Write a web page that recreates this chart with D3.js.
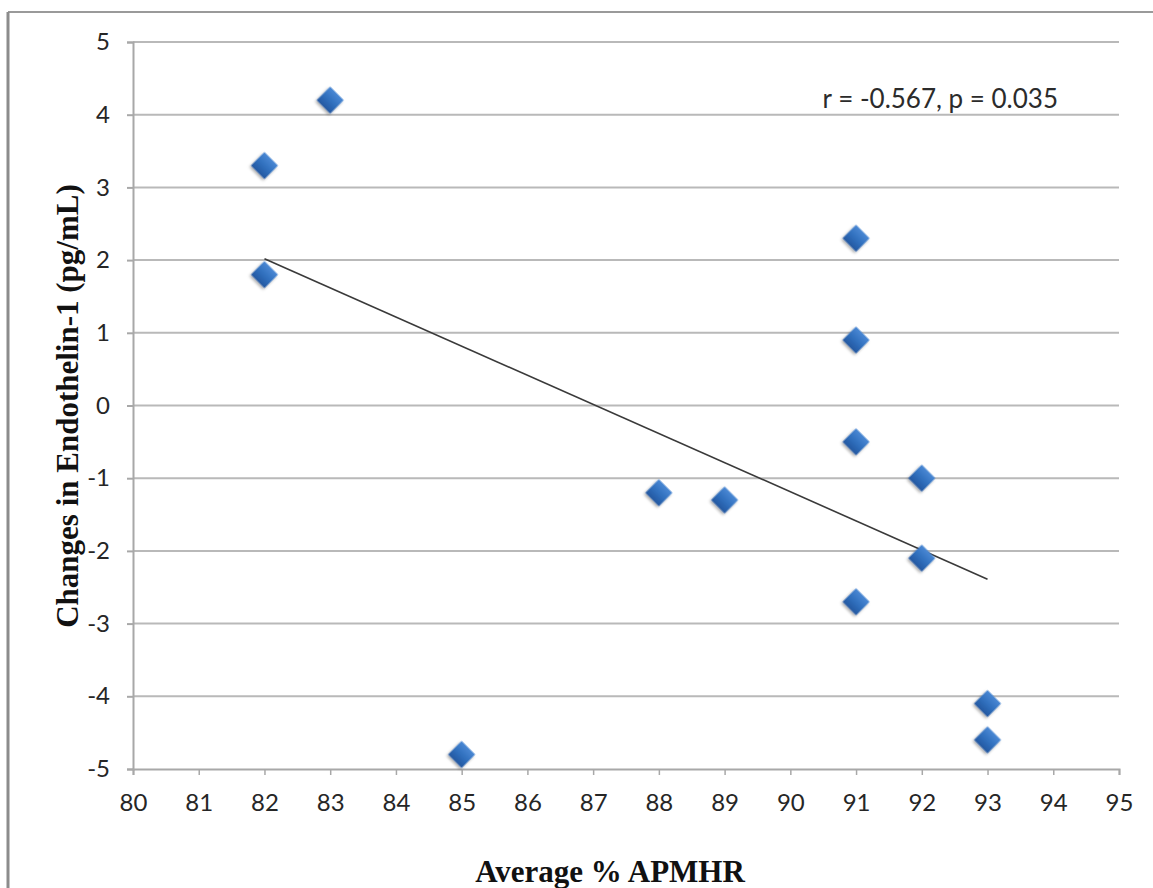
<!DOCTYPE html>
<html>
<head>
<meta charset="utf-8">
<script src="https://cdn.jsdelivr.net/npm/d3@7"></script>
<style>
  html, body { margin: 0; padding: 0; background: #fff; }
  svg { display: block; }
</style>
</head>
<body>
<svg id="chart" width="1153" height="888"></svg>
<script>
// ── Data ──
const apmhr = [82, 82, 83, 85, 88, 89, 91, 91, 91, 91, 92, 92, 93, 93];
const endothelinChange = [3.3, 1.8, 4.2, -4.8, -1.2, -1.3, 2.3, 0.9, -0.5, -2.7, -1.0, -2.1, -4.1, -4.6];
const xTicks = d3.range(80, 96, 1);
const yTicks = d3.range(-5, 6, 1);
const statsLabel = "r = -0.567, p = 0.035";
const xTitle = "Average % APMHR";
const yTitle = "Changes in Endothelin-1 (pg/mL)";

const points = apmhr.map((x, i) => ({ x, y: endothelinChange[i] }));

// least squares trend line
const mx = d3.mean(apmhr), my = d3.mean(endothelinChange);
const sxy = d3.sum(points, p => (p.x - mx) * (p.y - my));
const sxx = d3.sum(points, p => (p.x - mx) ** 2);
const slope = sxy / sxx;
const intercept = my - slope * mx;
const [xMin, xMax] = d3.extent(apmhr);
const trend = [
  { x: xMin, y: intercept + slope * xMin },
  { x: xMax, y: intercept + slope * xMax }
];

const svg = d3.select("#chart");
const margin = { left: 133, right: 1119, top: 42, bottom: 769 };

const x = d3.scaleLinear().domain([80, 95]).range([margin.left, margin.right]);
const y = d3.scaleLinear().domain([-5, 5]).range([margin.bottom, margin.top]);

// plain hyphen for negatives, like the original
const fmt = d => String(d);

// ── Defs: marker gradient + shadow ──
const defs = svg.append("defs");
const grad = defs.append("linearGradient")
  .attr("id", "diamondFill")
  .attr("x1", "0").attr("y1", "0").attr("x2", "0").attr("y2", "1");
grad.append("stop").attr("offset", "0%").attr("stop-color", "#4a88d4");
grad.append("stop").attr("offset", "55%").attr("stop-color", "#2f6ebc");
grad.append("stop").attr("offset", "100%").attr("stop-color", "#2458a0");

const shadow = defs.append("filter").attr("id", "shadow")
  .attr("x", "-50%").attr("y", "-50%").attr("width", "200%").attr("height", "200%");
shadow.append("feGaussianBlur").attr("in", "SourceAlpha").attr("stdDeviation", 1.5);
shadow.append("feOffset").attr("dx", 0).attr("dy", 2).attr("result", "off");
shadow.append("feComponentTransfer").append("feFuncA").attr("type", "linear").attr("slope", 0.35);
const merge = shadow.append("feMerge");
merge.append("feMergeNode");
merge.append("feMergeNode").attr("in", "SourceGraphic");

// ── Frame (picture border) ──
svg.append("line")
  .attr("x1", 8).attr("x2", 1153).attr("y1", 12).attr("y2", 12)
  .attr("stroke", "#9a9a9a").attr("stroke-width", 2);
svg.append("line")
  .attr("x1", 8).attr("x2", 8).attr("y1", 12).attr("y2", 888)
  .attr("stroke", "#8c8c8c").attr("stroke-width", 3);

// ── Gridlines ──
svg.append("g")
  .selectAll("line")
  .data(yTicks.filter(d => d !== -5))
  .join("line")
  .attr("x1", margin.left).attr("x2", margin.right)
  .attr("y1", d => y(d)).attr("y2", d => y(d))
  .attr("stroke", "#b9b9b9").attr("stroke-width", 2);

// ── Axes ──
const tickFont = "Lato, 'Open Sans', sans-serif";

const yAxis = svg.append("g")
  .attr("transform", `translate(${margin.left},0)`)
  .call(d3.axisLeft(y).tickValues(yTicks).tickSize(6).tickPadding(17).tickFormat(fmt));
yAxis.select(".domain").attr("stroke", "#a8a8a8").attr("stroke-width", 2);
yAxis.selectAll(".tick line").attr("stroke", "#a8a8a8").attr("stroke-width", 2);
yAxis.selectAll(".tick text")
  .attr("fill", "#262626")
  .style("font-family", tickFont).style("font-size", "24px");

const xAxis = svg.append("g")
  .attr("transform", `translate(0,${margin.bottom})`)
  .call(d3.axisBottom(x).tickValues(xTicks).tickSize(6).tickPadding(19).tickFormat(fmt));
xAxis.select(".domain").attr("stroke", "#a8a8a8").attr("stroke-width", 2);
xAxis.selectAll(".tick line").attr("stroke", "#a8a8a8").attr("stroke-width", 1.5);
xAxis.selectAll(".tick text")
  .attr("fill", "#262626")
  .style("font-family", tickFont).style("font-size", "24px");

// ── Trend line ──
svg.append("path")
  .datum(trend)
  .attr("fill", "none")
  .attr("stroke", "#3a3a3a")
  .attr("stroke-width", 1.6)
  .attr("d", d3.line().x(d => x(d.x)).y(d => y(d.y)));

// ── Points ──
const diamond = d3.symbol().type(d3.symbolSquare).size(2 * 13.5 * 13.5);
svg.append("g")
  .selectAll("path")
  .data(points)
  .join("path")
  .attr("transform", d => `translate(${x(d.x)},${y(d.y)}) rotate(45)`)
  .attr("d", diamond)
  .attr("fill", "url(#diamondFill)")
  .attr("filter", "url(#shadow)");

// ── Annotation ──
svg.append("text")
  .attr("x", 1058).attr("y", 108)
  .attr("text-anchor", "end")
  .attr("fill", "#2b2b2b")
  .style("font-family", tickFont).style("font-size", "26px")
  .text(statsLabel);

// ── Axis titles ──
svg.append("text")
  .attr("x", 610).attr("y", 882)
  .attr("text-anchor", "middle")
  .attr("fill", "#111")
  .style("font-family", "'Liberation Serif', 'Times New Roman', serif")
  .style("font-weight", "bold").style("font-size", "31px")
  .text(xTitle);

svg.append("text")
  .attr("transform", "translate(78,406) rotate(-90)")
  .attr("text-anchor", "middle")
  .attr("fill", "#111")
  .style("font-family", "'Liberation Serif', 'Times New Roman', serif")
  .style("font-weight", "bold").style("font-size", "31px")
  .text(yTitle);
</script>
</body>
</html>
